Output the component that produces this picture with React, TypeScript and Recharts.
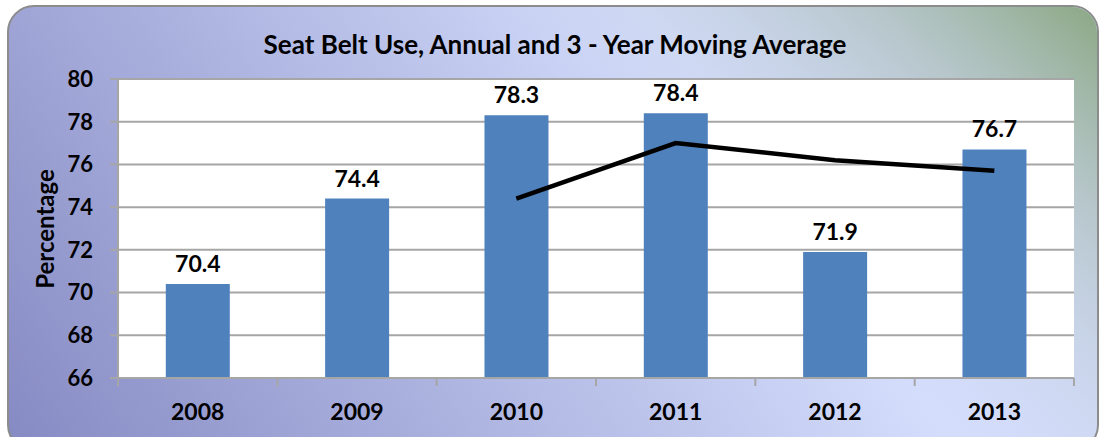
import React from 'react';
import { ComposedChart, Bar, Line, XAxis, YAxis, CartesianGrid, LabelList } from 'recharts';

const years = ['2008', '2009', '2010', '2011', '2012', '2013'];
const annualUse = [70.4, 74.4, 78.3, 78.4, 71.9, 76.7];
const movingAverage: (number | null)[] = [null, null, 74.4, 77.0, 76.2, 75.7];
const yTicks = [66, 68, 70, 72, 74, 76, 78, 80];

const title = 'Seat Belt Use, Annual and 3 - Year Moving Average';
const yLabel = 'Percentage';

const data = years.map((y, i) => ({ year: y, annual: annualUse[i], avg: movingAverage[i] }));

const W = 1100;
const H = 437;
const MARGIN = { top: 79, right: 26, bottom: 19, left: 58 };
const YAXIS_W = 60;
const XAXIS_H = 40;
const FONT = 'Lato, "Open Sans", sans-serif';
const GRID = '#a6a6a6';

const plotLeft = MARGIN.left + YAXIS_W;
const plotRight = W - MARGIN.right;
const axisY = H - MARGIN.bottom - XAXIS_H;
const halfBand = (plotRight - plotLeft) / years.length / 2;

const XTick = (props: any) => {
  const { x, payload, index } = props;
  return (
    <g>
      <line x1={x - halfBand} x2={x - halfBand} y1={axisY} y2={axisY + 8} stroke={GRID} strokeWidth={2} />
      {index === years.length - 1 && (
        <line x1={x + halfBand} x2={x + halfBand} y1={axisY} y2={axisY + 8} stroke={GRID} strokeWidth={2} />
      )}
      <text x={x} y={axisY + 42} textAnchor="middle" fontFamily={FONT} fontWeight={700} fontSize={23} fill="#000">
        {payload.value}
      </text>
    </g>
  );
};

export default function App() {
  return (
    <div style={{ position: 'absolute', left: 0, top: 0, width: W, height: H, background: '#fff', overflow: 'hidden' }}>
      <svg width={W} height={H} style={{ position: 'absolute', left: 0, top: 0 }}>
        <defs>
          <linearGradient id="bgBase" gradientUnits="userSpaceOnUse" x1={0} y1={437} x2={650} y2={0}>
            <stop offset="0" stopColor="#868ac3" />
            <stop offset="1" stopColor="#d4ddfc" />
          </linearGradient>
          <linearGradient id="bgGreen" gradientUnits="userSpaceOnUse" x1={1100} y1={0} x2={800} y2={330}>
            <stop offset="0" stopColor="#88a67f" stopOpacity={1} />
            <stop offset="0.35" stopColor="#a9bcb4" stopOpacity={0.7} />
            <stop offset="1" stopColor="#d4ddfc" stopOpacity={0} />
          </linearGradient>
        </defs>
        <rect x={8} y={6} width={1090} height={445} rx={26} ry={26} fill="url(#bgBase)" stroke="#8c8c8c" strokeWidth={2} />
        <rect x={9} y={7} width={1088} height={443} rx={25} ry={25} fill="url(#bgGreen)" />
        <text x={555} y={54} textAnchor="middle" fontFamily={FONT} fontWeight={700} fontSize={26} fill="#000">
          {title}
        </text>
        <text
          transform="translate(44,229) rotate(-90)"
          textAnchor="middle"
          dominantBaseline="central"
          fontFamily={FONT}
          fontWeight={700}
          fontSize={24}
          fill="#000"
        >
          {yLabel}
        </text>
      </svg>
      <div style={{ position: 'absolute', left: 0, top: 0 }}>
        <ComposedChart width={W} height={H} data={data} margin={MARGIN} barCategoryGap="30%">
          <CartesianGrid vertical={false} stroke={GRID} strokeWidth={2} fill="#ffffff" />
          <XAxis
            dataKey="year"
            height={XAXIS_H}
            axisLine={{ stroke: GRID, strokeWidth: 2 }}
            tickLine={false}
            tick={<XTick />}
            interval={0}
          />
          <YAxis
            width={YAXIS_W}
            domain={[66, 80]}
            ticks={yTicks}
            allowDataOverflow
            axisLine={{ stroke: GRID, strokeWidth: 2 }}
            tickLine={{ stroke: GRID, strokeWidth: 2 }}
            tickSize={8}
            tickMargin={17}
            tick={{ fontFamily: FONT, fontWeight: 700, fontSize: 22, fill: '#000' }}
          />
          <Bar dataKey="annual" fill="#4f81bd" isAnimationActive={false}>
            <LabelList
              dataKey="annual"
              position="top"
              offset={12}
              style={{ fontFamily: FONT, fontWeight: 700, fontSize: 23, fill: '#000' }}
              formatter={(v: any) => Number(v).toFixed(1)}
            />
          </Bar>
          <Line
            dataKey="avg"
            stroke="#000"
            strokeWidth={4.5}
            dot={false}
            activeDot={false}
            connectNulls
            isAnimationActive={false}
          />
        </ComposedChart>
      </div>
    </div>
  );
}
